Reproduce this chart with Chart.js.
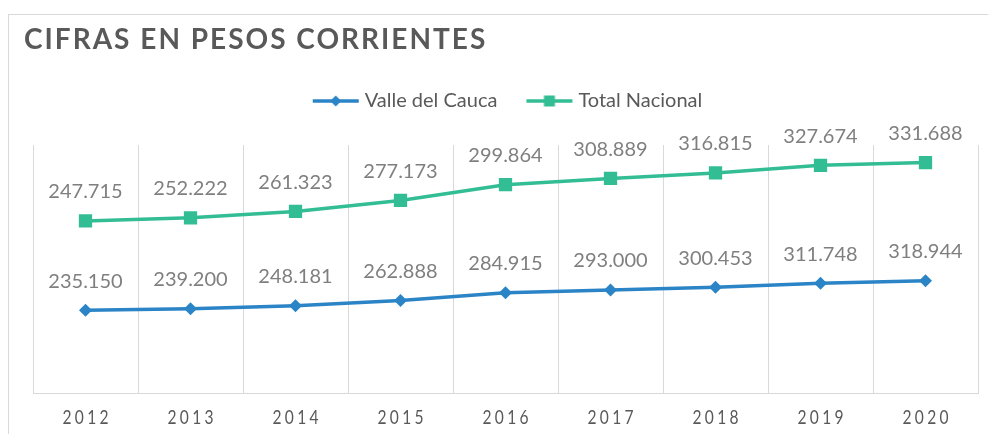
<!DOCTYPE html>
<html lang="es">
<head>
<meta charset="utf-8">
<title>Cifras en pesos corrientes</title>
<script src="https://cdn.jsdelivr.net/npm/chart.js@4.4.1/dist/chart.umd.min.js"></script>
<style>
  html, body { margin: 0; padding: 0; background: #ffffff; }
  canvas { display: block; }
</style>
</head>
<body>
<canvas id="chart" width="988" height="434"></canvas>
<script>
const CHART_TITLE = 'CIFRAS EN PESOS CORRIENTES';
const YEARS = ['2012', '2013', '2014', '2015', '2016', '2017', '2018', '2019', '2020'];
const SERIES_NAMES = ['Valle del Cauca', 'Total Nacional'];
const VALLE_DEL_CAUCA = [235150, 239200, 248181, 262888, 284915, 293000, 300453, 311748, 318944];
const TOTAL_NACIONAL = [247715, 252222, 261323, 277173, 299864, 308889, 316815, 327674, 331688];

const COLORS = {
  valle: '#2b84c6',
  total: '#33bd94',
  title: '#595959',
  dataLabel: '#7f7f7f',
  axisText: '#595959',
  grid: '#d9d9d9',
  frame: '#d9d9d9'
};
const FONT = 'Lato, "Open Sans", sans-serif';

function formatThousands(value) {
  return String(value).replace(/\B(?=(\d{3})+(?!\d))/g, '.');
}

// line + marker sample, drawn once and handed to the legend as a point style
function legendSample(color, marker) {
  const canvas = document.createElement('canvas');
  canvas.width = 56;
  canvas.height = 14;
  const ctx = canvas.getContext('2d');
  ctx.strokeStyle = color;
  ctx.lineWidth = 3.5;
  ctx.beginPath();
  ctx.moveTo(9, 7);
  ctx.lineTo(55, 7);
  ctx.stroke();
  ctx.fillStyle = color;
  const cx = 32;
  if (marker === 'diamond') {
    ctx.beginPath();
    ctx.moveTo(cx - 5.5, 7);
    ctx.lineTo(cx, 1.5);
    ctx.lineTo(cx + 5.5, 7);
    ctx.lineTo(cx, 12.5);
    ctx.closePath();
    ctx.fill();
  } else {
    ctx.fillRect(cx - 5.5, 1.5, 11, 11);
  }
  return canvas;
}

const legendSamples = [legendSample(COLORS.valle, 'diamond'), legendSample(COLORS.total, 'square')];

// extra room between the legend row and the plot area
const legendGapPlugin = {
  id: 'legendGap',
  beforeInit(chart) {
    const legend = chart.legend;
    const originalFit = legend.fit;
    legend.fit = function () {
      originalFit.call(this);
      this.height += 24;
    };
  }
};

const framePlugin = {
  id: 'frame',
  beforeDraw(chart) {
    const ctx = chart.ctx;
    ctx.save();
    ctx.fillStyle = '#ffffff';
    ctx.fillRect(0, 0, chart.width, chart.height);
    ctx.strokeStyle = COLORS.frame;
    ctx.lineWidth = 1;
    ctx.strokeRect(8.5, 14.5, chart.width + 20, chart.height + 20);

    ctx.font = `bold 28px ${FONT}`;
    ctx.letterSpacing = '2px';
    ctx.fillStyle = COLORS.title;
    ctx.textAlign = 'left';
    ctx.textBaseline = 'middle';
    ctx.fillText(CHART_TITLE, 24, 40);
    ctx.restore();
  }
};

const labelsPlugin = {
  id: 'pointLabels',
  afterDatasetsDraw(chart) {
    const ctx = chart.ctx;
    ctx.save();
    ctx.font = `20px ${FONT}`;
    ctx.fillStyle = COLORS.dataLabel;
    ctx.textAlign = 'center';
    ctx.textBaseline = 'middle';
    chart.data.datasets.forEach((dataset, di) => {
      chart.getDatasetMeta(di).data.forEach((point, i) => {
        ctx.fillText(formatThousands(dataset.data[i]), point.x, point.y - 29);
      });
    });
    ctx.restore();
  },
  afterDraw(chart) {
    const xScale = chart.scales.x;
    const ctx = chart.ctx;
    ctx.save();
    ctx.font = `19px ${FONT}`;
    ctx.letterSpacing = '4px';
    ctx.fillStyle = COLORS.axisText;
    ctx.textAlign = 'center';
    ctx.textBaseline = 'middle';
    YEARS.forEach((year, i) => {
      ctx.save();
      ctx.translate(xScale.getPixelForValue(i), 418);
      ctx.scale(0.82, 1);
      ctx.fillText(year, 2, 0);
      ctx.restore();
    });
    ctx.restore();
  }
};

new Chart(document.getElementById('chart'), {
  type: 'line',
  data: {
    labels: YEARS,
    datasets: [
      {
        label: SERIES_NAMES[0],
        data: VALLE_DEL_CAUCA,
        yAxisID: 'y',
        borderColor: COLORS.valle,
        backgroundColor: COLORS.valle,
        borderWidth: 3.5,
        pointStyle: 'rectRot',
        pointRadius: 6.5,
        pointBorderWidth: 0,
        tension: 0
      },
      {
        label: SERIES_NAMES[1],
        data: TOTAL_NACIONAL,
        yAxisID: 'y1',
        borderColor: COLORS.total,
        backgroundColor: COLORS.total,
        borderWidth: 3.5,
        pointStyle: 'rect',
        pointRadius: 9.4,
        pointBorderWidth: 0,
        tension: 0
      }
    ]
  },
  options: {
    responsive: false,
    animation: false,
    devicePixelRatio: 1,
    layout: {
      padding: { top: 66, right: 10, bottom: 41, left: 33 }
    },
    plugins: {
      title: { display: false },
      tooltip: { enabled: false },
      legend: {
        position: 'top',
        align: 'center',
        labels: {
          usePointStyle: true,
          pointStyleWidth: 46,
          boxHeight: 14,
          padding: 25,
          color: COLORS.axisText,
          font: { size: 20, family: FONT },
          generateLabels(chart) {
            const items = Chart.defaults.plugins.legend.labels.generateLabels(chart);
            return items.map((item, i) => ({ ...item, pointStyle: legendSamples[i] }));
          }
        }
      }
    },
    scales: {
      x: {
        type: 'category',
        offset: true,
        grid: { offset: true, color: COLORS.grid, lineWidth: 1, drawTicks: false },
        border: { color: COLORS.grid, width: 1 },
        ticks: { display: false }
      },
      y: {
        display: false,
        min: 0,
        max: 705000
      },
      y1: {
        display: false,
        position: 'right',
        min: 0,
        max: 357000
      }
    }
  },
  plugins: [legendGapPlugin, framePlugin, labelsPlugin]
});
</script>
</body>
</html>
